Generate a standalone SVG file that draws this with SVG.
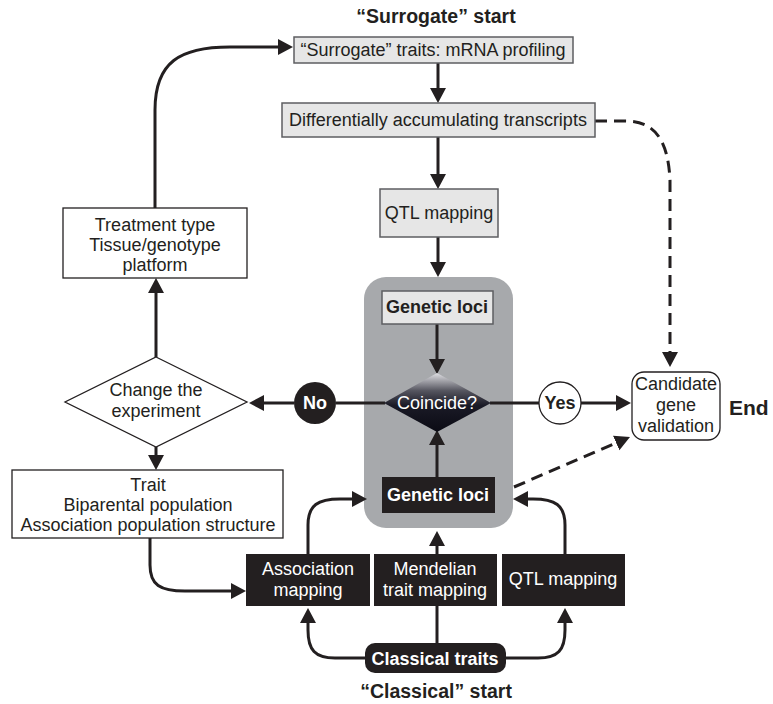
<svg xmlns="http://www.w3.org/2000/svg" width="773" height="704" viewBox="0 0 773 704">
<style>
text{font-family:"Liberation Sans",Arial,sans-serif;font-size:18px;text-anchor:middle;fill:#231f20}
.b{font-weight:bold}
.w{fill:#fff}
.title{font-size:19.5px;font-weight:bold}
.light{fill:#e6e6e6;stroke:#5d5e61;stroke-width:1.5}
.dark{fill:#231f20;stroke:none}
.white{fill:#fff;stroke:#231f20;stroke-width:1.3}
.c{fill:none;stroke:#231f20;stroke-width:3}
.a{marker-end:url(#ah)}
.d{stroke-dasharray:12 7}
</style>
<defs>
<marker id="ah" markerUnits="userSpaceOnUse" markerWidth="18" markerHeight="18" refX="5" refY="8" orient="auto">
<path d="M0,0 L15,8 L0,16 Z" fill="#231f20"/>
</marker>
<linearGradient id="gd" x1="0" y1="0" x2="0" y2="1">
<stop offset="0" stop-color="#e0e0e4"/>
<stop offset="0.3" stop-color="#55555f"/>
<stop offset="0.55" stop-color="#1a1a26"/>
<stop offset="1" stop-color="#0b0b14"/>
</linearGradient>
</defs>
<rect width="773" height="704" fill="#fff"/>

<g id="container"><rect x="364" y="277" width="149" height="251" rx="22" fill="#a7a9ac"/></g>

<g id="connectors">
<path class="c a" d="M155,208 V110 C155,62 180,47 230,47 H283"/>
<path class="c a" d="M438,63 V93"/>
<path class="c a" d="M438,137 V179"/>
<path class="c a" d="M438,237 V267"/>
<path class="c a" d="M437,324 V364"/>
<path class="c a" d="M437,477 V440"/>
<path class="c" d="M385,403 H336"/>
<path class="c a" d="M294,403 H259"/>
<path class="c" d="M490,403 H539"/>
<path class="c a" d="M581,403 H621"/>
<path class="c a" d="M156,357 V288"/>
<path class="c a" d="M156,447 V460"/>
<path class="c a" d="M150,538 V565 C150,585 160,591 185,591 H236"/>
<path class="c a" d="M437,554 V541"/>
<path class="c" d="M437,643 V606"/>
<path class="c a" d="M365,658 H335 C315,658 308,650 308,630 V618"/>
<path class="c a" d="M506,658 H538 C558,658 565,650 565,630 V618"/>
<path class="c a" d="M308,554 V525 C308,505 318,499 340,499 H357"/>
<path class="c a" d="M565,554 V525 C565,505 555,499 533,499 H523"/>
<path class="c a d" d="M595,121 H625 C655,121 668,140 670,180 V357"/>
<path class="c a d" d="M514,487 L620.8,441"/>
</g>

<g id="title-surrogate"><text class="title" x="436" y="23">“Surrogate” start</text></g>
<g id="title-classical"><text class="title" x="436" y="698">“Classical” start</text></g>

<g id="mrna"><rect class="light" x="294" y="37" width="279" height="26"/><text x="433" y="56">“Surrogate” traits: mRNA profiling</text></g>
<g id="dat"><rect class="light" x="282" y="103" width="313" height="34"/><text x="438" y="126">Differentially accumulating transcripts</text></g>
<g id="qtl-top"><rect class="light" x="380" y="189" width="118" height="48"/><text x="439" y="219">QTL mapping</text></g>
<g id="loci-top"><rect class="light" x="382" y="291" width="111" height="33"/><text class="b" x="437" y="313">Genetic loci</text></g>
<g id="coincide"><path d="M437,373 L491,403 L437,432 L384,403 Z" fill="url(#gd)"/><text class="w" x="437" y="409">Coincide?</text></g>
<g id="loci-bottom"><rect class="dark" x="382" y="477" width="113" height="36"/><text class="b w" x="438" y="501">Genetic loci</text></g>
<g id="no"><circle cx="315" cy="403" r="21" fill="#231f20"/><text class="b w" x="315" y="409">No</text></g>
<g id="yes"><circle class="white" cx="560" cy="403" r="21"/><text class="b" x="560" y="409">Yes</text></g>
<g id="candidate"><rect class="white" x="632" y="372" width="88" height="68" rx="12"/><text x="676" y="390">Candidate</text><text x="676" y="411">gene</text><text x="676" y="432">validation</text></g>
<g id="end"><text class="b" x="729" y="415" style="text-anchor:start;font-size:21px">End</text></g>
<g id="change"><path d="M156,357 L247,402 L156,447 L65,402 Z" fill="#fff" stroke="#231f20" stroke-width="1.3"/><text x="156" y="396">Change the</text><text x="156" y="417">experiment</text></g>
<g id="treatment"><rect class="white" x="63" y="208" width="184" height="70"/><text x="155" y="231">Treatment type</text><text x="155" y="251">Tissue/genotype</text><text x="155" y="271">platform</text></g>
<g id="trait"><rect class="white" x="12" y="470" width="271" height="68"/><text x="148" y="491">Trait</text><text x="148" y="511">Biparental population</text><text x="148" y="531">Association population structure</text></g>
<g id="assoc"><rect class="dark" x="246" y="554" width="124" height="52"/><text class="w" x="308" y="575">Association</text><text class="w" x="308" y="596">mapping</text></g>
<g id="mendel"><rect class="dark" x="374" y="554" width="123" height="52"/><text class="w" x="435" y="575">Mendelian</text><text class="w" x="435" y="596">trait mapping</text></g>
<g id="qtl-bottom"><rect class="dark" x="502" y="554" width="123" height="52"/><text class="w" x="563" y="585">QTL mapping</text></g>
<g id="classical"><rect class="dark" x="365" y="643" width="141" height="30" rx="10"/><text class="b w" x="435" y="665">Classical traits</text></g>
</svg>
